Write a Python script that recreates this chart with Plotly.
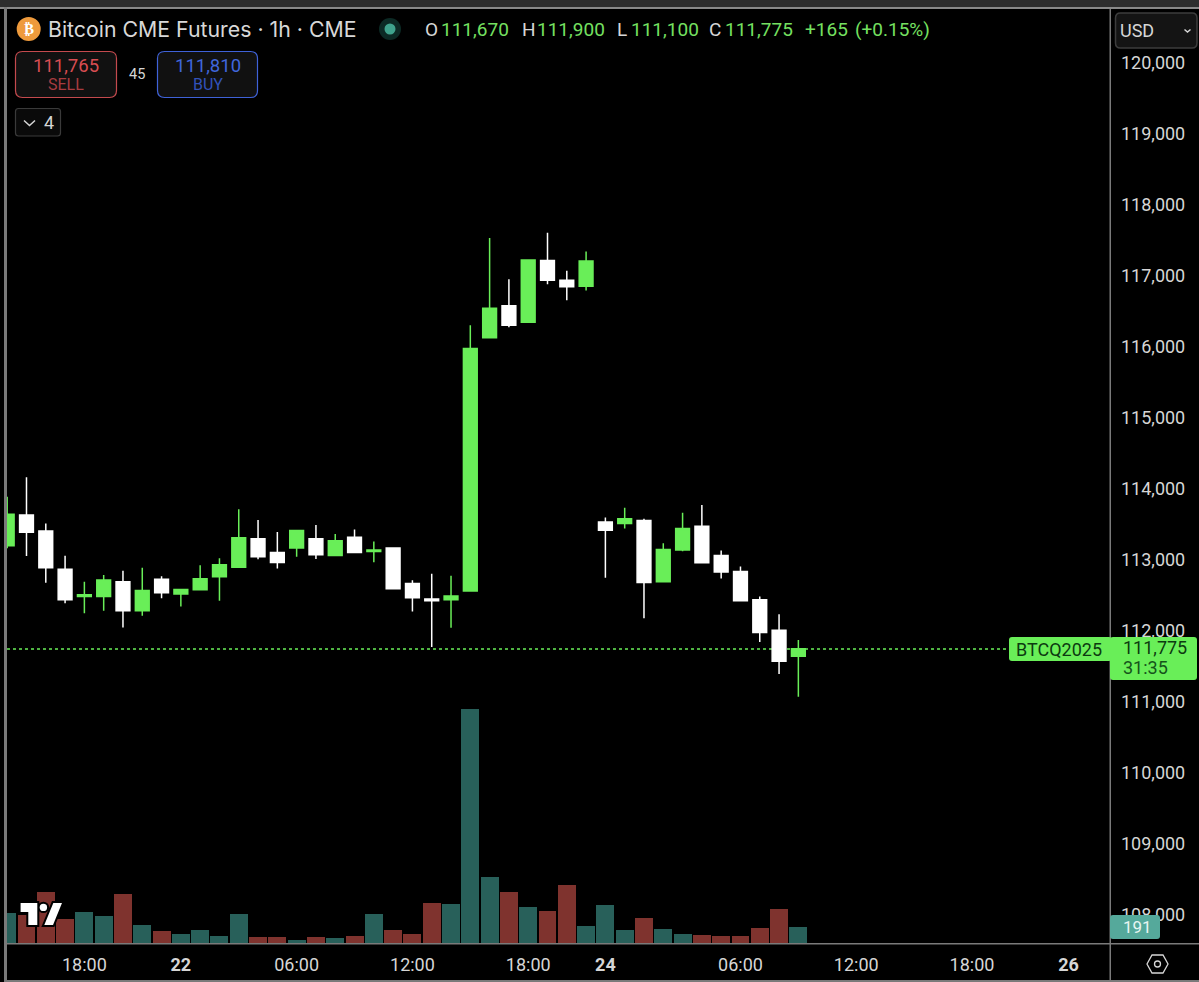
import plotly.graph_objects as go

index = list(range(42))
opens = [113225,113660,113435,112895,112510,112510,112720,112310,112755,112545,112605,112790,112925,113325,113130,113195,113325,113090,113345,113145,113195,112695,112475,112465,112590,116155,116605,116375,117245,116965,116880,113560,113540,113580,112720,113165,113500,113090,112865,112465,112035,111670]
highs = [113915,114190,113540,113085,112720,112815,112875,112915,112795,112610,112950,113050,113740,113590,113420,113440,113520,113390,113455,113285,113195,112740,112830,112805,116330,117560,116980,117250,117635,117100,117370,113625,113760,113605,113260,113690,113800,113160,112935,112510,112260,111900]
lows = [113190,113080,112705,112415,112275,112310,112075,112240,112485,112370,112605,112450,112915,113035,112905,113070,113040,113090,113120,112995,112610,112300,111800,112070,112590,116155,116305,116375,116910,116685,116820,112775,113470,112205,112720,113150,112985,112765,112450,111870,111420,111100]
closes = [113670,113415,112915,112465,112535,112745,112310,112595,112565,112610,112760,112960,113340,113070,112990,113440,113100,113295,113130,113165,112620,112495,112450,112520,116005,116570,116330,117250,116965,116875,117235,113445,113605,112710,113175,113470,112985,112855,112450,112005,111600,111775]
volumes = [366,346,619,297,378,326,594,216,147,106,155,90,358,69,69,37,69,61,90,358,155,114,484,476,2851,806,619,435,391,712,208,460,163,305,167,106,94,85,85,187,415,191]
volume_side = ["u","d","d","d","u","u","d","u","d","u","u","u","u","d","d","u","d","u","d","u","d","d","d","u","u","u","d","u","d","d","u","u","u","d","u","u","d","d","d","d","d","u"]
tick_index = [4,9,15,21,27,31,38,44,50,55]
tick_labels = ["18:00","<b>22</b>","06:00","12:00","18:00","<b>24</b>","06:00","12:00","18:00","<b>26</b>"]
price_ticks = [108000,109000,110000,111000,112000,113000,114000,115000,116000,117000,118000,119000,120000]

GREEN = "#69ee58"
FONT = "Roboto"
W, H = 1199, 982
L, R, T, B = 7, 1110, 9, 943

def px(x): return (x - L) / (R - L)
def py(y): return 1 - (y - T) / (B - T)

teal, red = "#28605a", "#7f332e"
fig = go.Figure()
fig.add_trace(go.Bar(x=index, y=volumes, yaxis="y2", width=0.93,
                     marker=dict(color=[teal if s == "u" else red for s in volume_side], line_width=0),
                     hoverinfo="skip", showlegend=False))
fig.add_trace(go.Candlestick(x=index, open=opens, high=highs, low=lows, close=closes,
                             increasing=dict(line=dict(color=GREEN, width=1.5), fillcolor=GREEN),
                             decreasing=dict(line=dict(color="#ffffff", width=1.5), fillcolor="#ffffff"),
                             whiskerwidth=0, showlegend=False, hoverinfo="skip"))

shapes, ann = [], []

def rect(x0, y0, x1, y1, fill, line=None, lw=1, r=0):
    if r:
        d = (f"M{px(x0+r)},{py(y0)} L{px(x1-r)},{py(y0)} Q{px(x1)},{py(y0)} {px(x1)},{py(y0+r)} "
             f"L{px(x1)},{py(y1-r)} Q{px(x1)},{py(y1)} {px(x1-r)},{py(y1)} L{px(x0+r)},{py(y1)} "
             f"Q{px(x0)},{py(y1)} {px(x0)},{py(y1-r)} L{px(x0)},{py(y0+r)} Q{px(x0)},{py(y0)} {px(x0+r)},{py(y0)} Z")
        shapes.append(dict(type="path", xref="paper", yref="paper", path=d, fillcolor=fill,
                           line=dict(color=line or fill, width=lw if line else 0), layer="above"))
    else:
        shapes.append(dict(type="rect", xref="paper", yref="paper", x0=px(x0), x1=px(x1), y0=py(y0), y1=py(y1),
                           fillcolor=fill, line=dict(width=0), layer="above"))

def poly(points, fill=None, line=None, lw=1, close=True):
    d = "M" + " L".join(f"{px(a)},{py(b)}" for a, b in points) + (" Z" if close else "")
    shapes.append(dict(type="path", xref="paper", yref="paper", path=d, fillcolor=fill or "rgba(0,0,0,0)",
                       line=dict(color=line or "rgba(0,0,0,0)", width=lw), layer="above"))

def circle(cx, cy, r, fill, line=None, lw=1):
    shapes.append(dict(type="circle", xref="paper", yref="paper", x0=px(cx-r), x1=px(cx+r), y0=py(cy+r), y1=py(cy-r),
                       fillcolor=fill, line=dict(color=line or fill, width=lw if line else 0), layer="above"))

def label(x, y, s, size=18, color="#d6d6d6", anchor="left", font=FONT):
    ann.append(dict(xref="paper", yref="paper", x=px(x), y=py(y), text=s, showarrow=False, xanchor=anchor,
                    yanchor="middle", borderpad=0, borderwidth=0,
                    font=dict(family=font, size=size, color=color)))

# frame
rect(0, 0, W, 7, "#2e2e2e")
rect(0, 7, W, 9, "#8a8a8a")
rect(4, 7, 7, 982, "#7a7a7a")
rect(1109.5, 9, 1111, 982, "#7a7a7a")
rect(5, 943, W, 944.5, "#7a7a7a")
rect(5, 980, W, 982, "#7a7a7a")

# last price line
shapes.append(dict(type="line", xref="paper", yref="paper", x0=px(7), x1=px(1009), y0=py(649), y1=py(649),
                   line=dict(color=GREEN, width=1.3, dash="dot"), layer="below"))

# price tags
rect(1009, 637, 1112, 661, GREEN, r=3)
rect(1110, 637, 1197, 680, GREEN, r=3)
label(1016, 649, "BTCQ2025", 18, "#0c3a10")
label(1123, 647.5, "111,775", 18, "#0c3a10")
label(1123, 667, "31:35", 18, "#15531b")
rect(1110, 915, 1160, 939, "#55a99b", r=3)
label(1137, 927, "191", 17, "#e8f5f2", "center")

# header
circle(28.7, 29, 12, "#ee9a3c")
label(28.7, 29, "<b>₿</b>", 15, "#ffffff", "center", "DejaVu Sans")
label(48, 29, "Bitcoin CME Futures · 1h · CME", 21.3, "#d8d8d8", font="Inter")
circle(390, 29, 11, "#0c2a25")
circle(390, 29, 5.5, "#3fa38d")
for x, s in [(425, "O"), (522, "H"), (617, "L"), (709, "C")]:
    label(x, 29, s, 19, "#d6d6d6")
for x, s in [(441, "111,670"), (537, "111,900"), (631, "111,100"), (725, "111,775"), (805, "+165"), (855, "(+0.15%)")]:
    label(x, 29, s, 19, "#75e060")

# buttons
rect(15.5, 51.5, 116.5, 97.5, "#111111", "#c44a4e", 1.2, r=7)
label(66, 65.5, "111,765", 18.5, "#d84d52", "center")
label(66, 85, "SELL", 16, "#a83c40", "center")
label(136.5, 75, "45", 14.5, "#d6d6d6", "center")
rect(157.5, 51.5, 257.5, 97.5, "#111111", "#3f62d8", 1.2, r=7)
label(207.5, 65.5, "111,810", 18.5, "#4067dc", "center")
label(207.5, 85, "BUY", 16, "#3252ba", "center")
rect(15.5, 108.5, 60.5, 136, "#0a0a0a", "#3a3a3a", 1.2, r=3)
poly([(24, 120.5), (29.5, 125.5), (35, 120.5)], line="#d6d6d6", lw=1.5, close=False)
label(48.5, 122.5, "4", 18, "#d6d6d6", "center")

# currency box
rect(1115.5, 13, 1197, 48, "#141414", "#3c3c3c", 1.5, r=5)
label(1120, 31, "USD", 18, "#d6d6d6")
poly([(1184.5, 29.5), (1187.5, 32), (1190.5, 29.5)], line="#d6d6d6", lw=1.5, close=False)

# hexagon settings icon
poly([(1147, 964), (1152, 955), (1163, 955), (1168, 964), (1163, 973), (1152, 973)], line="#d6d6d6", lw=1.3)
circle(1157.5, 964, 3, "rgba(0,0,0,0)", "#d6d6d6", 1.3)

# logo: black halo first, then the white marks
logo_t = [(20.6, 903), (37.3, 903), (37.3, 925), (28.3, 925), (28.3, 912), (20.6, 912)]
logo_s = [(53.3, 903), (62, 903), (53, 925), (44.3, 925)]
poly(logo_t, fill="#000000", line="#000000", lw=4)
poly(logo_s, fill="#000000", line="#000000", lw=4)
circle(43.4, 907.4, 5.7, "#000000")
poly(logo_t, fill="#ffffff")
poly(logo_s, fill="#ffffff")
circle(43.4, 907.4, 3.7, "#ffffff")

fig.update_layout(
    width=W, height=H, autosize=False,
    margin=dict(l=L, r=W - R, t=T, b=H - B, pad=0),
    paper_bgcolor="#000000", plot_bgcolor="#000000",
    showlegend=False, boxgap=0.285, boxgroupgap=0, boxmode="overlay", bargap=0,
    font=dict(family=FONT, size=18, color="#d6d6d6"),
    xaxis=dict(range=[-0.01, 57.15], tickmode="array", tickvals=tick_index, ticktext=tick_labels,
               showgrid=False, zeroline=False, showline=False, ticks="", rangeslider=dict(visible=False),
               ticklabelstandoff=9, tickfont=dict(family=FONT, size=18, color="#d6d6d6")),
    yaxis=dict(range=[107631, 120786], side="right", tickmode="array", tickvals=price_ticks,
               tickformat=",d", showgrid=False, zeroline=False, showline=False, ticks="",
               ticklabelstandoff=10, ticklabelshift=-2, tickfont=dict(family=FONT, size=18, color="#d6d6d6")),
    yaxis2=dict(range=[0, 11395], overlaying="y", visible=False, fixedrange=True),
    shapes=shapes, annotations=ann,
)

fig.write_html("out.html", config=dict(displayModeBar=False),
               post_script="document.body.style.margin='0';document.body.style.overflow='hidden';")
